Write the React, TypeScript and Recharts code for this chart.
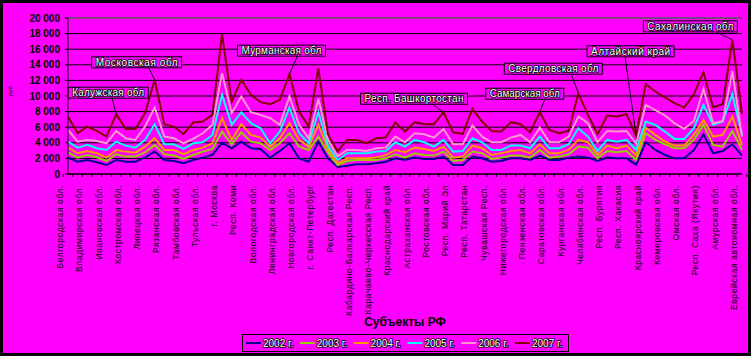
import { ComposedChart, Line, XAxis, YAxis, CartesianGrid, ReferenceLine, ReferenceDot } from 'recharts';

const regions = [
  'Белгородская обл.', 'Брянская обл.', 'Владимирская обл.', 'Воронежская обл.', 'Ивановская обл.',
  'Калужская обл.', 'Костромская обл.', 'Курская обл.', 'Липецкая обл.', 'Московская обл.',
  'Рязанская обл.', 'Смоленская обл.', 'Тамбовская обл.', 'Тверская обл.', 'Тульская обл.',
  'Ярославская обл.', 'г. Москва', 'Респ. Карелия', 'Респ. Коми', 'Архангельская обл.',
  'Вологодская обл.', 'Калининградская обл.', 'Ленинградская обл.', 'Мурманская обл.', 'Новгородская обл.',
  'Псковская обл.', 'г. Санкт-Петербург', 'Респ. Адыгея', 'Респ. Дагестан', 'Респ. Ингушетия',
  'Кабардино-Балкарская Респ.', 'Респ. Калмыкия', 'Карачаево-Черкесская Респ.', 'Респ. Северная Осетия - Алания', 'Краснодарский край',
  'Ставропольский край', 'Астраханская обл.', 'Волгоградская обл.', 'Ростовская обл.', 'Респ. Башкортостан',
  'Респ. Марий Эл', 'Респ. Мордовия', 'Респ. Татарстан', 'Удмуртская Респ.', 'Чувашская Респ.',
  'Кировская обл.', 'Нижегородская обл.', 'Оренбургская обл.', 'Пензенская обл.', 'Самарская обл.',
  'Саратовская обл.', 'Ульяновская обл.', 'Курганская обл.', 'Свердловская обл.', 'Челябинская обл.',
  'Респ. Алтай', 'Респ. Бурятия', 'Респ. Тыва', 'Респ. Хакасия', 'Алтайский край',
  'Красноярский край', 'Иркутская обл.', 'Кемеровская обл.', 'Новосибирская обл.', 'Омская обл.',
  'Томская обл.', 'Респ. Саха (Якутия)', 'Хабаровский край', 'Амурская обл.', 'Сахалинская обл.',
  'Еврейская автономная обл.',
];

const years = ['2002 г.', '2003 г.', '2004 г.', '2005 г.', '2006 г.', '2007 г.'];
const colors = ['#000090', '#99CC00', '#FF9900', '#00FFFF', '#FF99CC', '#800000'];

const v2002 = [
  2100, 1580, 1800, 1500, 1160, 1800, 1580, 1580, 2100, 2870,
  1800, 1670, 1370, 1800, 2100, 2440, 4000, 3300, 4150, 3300,
  3210, 2100, 2950, 3940, 2010, 1580, 4150, 2010, 900, 1070,
  1240, 1240, 1370, 1580, 2010, 1800, 2100, 1930, 1930, 2230,
  1160, 1160, 2230, 2010, 1580, 1670, 2010, 2010, 1800, 2360,
  1800, 1800, 2100, 2230, 2100, 1670, 2100, 2010, 2010, 1200,
  4070, 3080, 2440, 2010, 2010, 3080, 5100, 2660, 2950, 3810,
  2360,
];
const v2003 = [
  2780, 2100, 2440, 2140, 1670, 2530, 2230, 2230, 2780, 3730,
  2530, 2360, 1930, 2440, 2870, 3210, 5440, 3810, 5350, 4150,
  3940, 3080, 3940, 5220, 3510, 3080, 4800, 2780, 1160, 1670,
  1800, 1800, 1800, 2010, 2530, 2100, 2660, 2440, 2360, 2870,
  1670, 1800, 2870, 2660, 1930, 2100, 2360, 2360, 2100, 3080,
  2100, 2230, 2530, 3510, 3380, 2010, 2950, 2780, 2950, 1800,
  5220, 4370, 3810, 3300, 3300, 4370, 6300, 3730, 3510, 5520,
  3100,
];
const v2004 = [
  3380, 2660, 2950, 2660, 2100, 3080, 2870, 2740, 3510, 4580,
  3080, 3080, 2530, 3080, 3380, 3940, 7150, 4370, 6380, 5010,
  4670, 3510, 4580, 6510, 4370, 3510, 6300, 3210, 1370, 2010,
  2010, 2010, 2100, 2440, 3080, 2780, 3380, 3210, 2950, 3510,
  2100, 2230, 3640, 3300, 2440, 2660, 2950, 3080, 2660, 3810,
  2660, 2660, 3080, 4370, 4070, 2440, 3640, 3300, 3640, 2400,
  5950, 5010, 4150, 3640, 3640, 5010, 6940, 4800, 5010, 7370,
  3700,
];
const v2005 = [
  4150, 3380, 3730, 3300, 3080, 4150, 3640, 3380, 4370, 6380,
  3810, 3810, 3210, 3940, 4070, 5010, 10150, 6300, 7920, 6510,
  5870, 3940, 5440, 8520, 5220, 3940, 7920, 3640, 1800, 2660,
  2660, 2660, 2870, 2950, 4070, 3510, 4370, 4070, 3510, 4370,
  2870, 2950, 4580, 4070, 3080, 3080, 3640, 3640, 3300, 4800,
  3300, 3300, 3810, 5870, 4800, 2950, 4370, 4150, 4370, 3100,
  6720, 6300, 5440, 4500, 4500, 5870, 8860, 6300, 6720, 10230,
  5010,
];
const v2006 = [
  5650, 4150, 4370, 4240, 3940, 5520, 4580, 4370, 6080, 8520,
  4800, 4580, 3940, 4500, 5220, 6300, 12930, 7800, 9940, 7920,
  7580, 7150, 6300, 9940, 6300, 4580, 9640, 4370, 2300, 3080,
  3080, 2950, 3300, 3380, 4800, 4070, 5220, 5100, 4670, 5780,
  3810, 3810, 6210, 4800, 4070, 4070, 4670, 5010, 4070, 5950,
  4070, 4070, 4800, 7370, 6510, 4070, 5520, 5440, 5520, 3900,
  8860, 8200, 7500, 6500, 5800, 6800, 10900, 6500, 6800, 13200,
  4800,
];
const v2007 = [
  7370, 5220, 6080, 5520, 4800, 7670, 5780, 5780, 7800, 12080,
  6380, 6080, 5100, 6600, 6720, 7580, 17940, 9290, 12080, 10150,
  9210, 8950, 9510, 12800, 8010, 6080, 13580, 5100, 2900, 4370,
  4370, 3940, 4580, 4670, 6600, 5440, 6640, 6380, 6380, 7920,
  5350, 5140, 8350, 6720, 5520, 5440, 6640, 6380, 5350, 7920,
  5650, 5220, 5520, 10360, 7580, 5100, 7490, 7370, 7670, 4900,
  11520, 10580, 9810, 9080, 8520, 10230, 13060, 8520, 8950, 17200,
  7700,
];

const yTicks = [0, 2000, 4000, 6000, 8000, 10000, 12000, 14000, 16000, 18000, 20000];

// callouts point at the 2007 line
const calloutRegions = [
  'Калужская обл.', 'Московская обл.', 'Мурманская обл.', 'Респ. Башкортостан',
  'Самарская обл.', 'Свердловская обл.', 'Алтайский край', 'Сахалинская обл.',
];
const calloutTexts = [
  'Калужская обл', 'Московская обл', 'Мурманская обл', 'Респ. Башкортостан',
  'Самарская обл', 'Свердловская обл', 'Алтайский край', 'Сахалинская обл',
];
// box offset / width and leader start, relative to the point
const calloutLayout = [
  { bx: -48, by: -27, w: 80, lx: -4, ly: -16 },
  { bx: -63, by: -23, w: 90, lx: -6, ly: -12 },
  { bx: -52, by: -29, w: 88, lx: 8, ly: -18 },
  { bx: -83, by: -19, w: 107, lx: -11, ly: -8 },
  { bx: -54, by: -24, w: 78, lx: 5, ly: -13 },
  { bx: -74, by: -30, w: 98, lx: -7, ly: -19 },
  { bx: -49, by: -90, w: 87, lx: -11, ly: -79 },
  { bx: -89, by: -19, w: 94, lx: -16, ly: -8 },
];

const keys = ['y2002', 'y2003', 'y2004', 'y2005', 'y2006', 'y2007'];
const values = [v2002, v2003, v2004, v2005, v2006, v2007];

const data = regions.map((name, i) => {
  const row: Record<string, string | number> = { name };
  keys.forEach((k, s) => (row[k] = values[s][i]));
  return row;
});

const FONT = '"Liberation Sans", Arial, sans-serif';
const PLOT_W = 674;
const BAND = PLOT_W / regions.length;

function RegionTick(props: any) {
  const { x, y, payload, index } = props;
  return (
    <g>
      <line x1={x + BAND / 2} y1={y} x2={x + BAND / 2} y2={y + 3} stroke="#000" />
      {index === 0 && <line x1={x - BAND / 2} y1={y} x2={x - BAND / 2} y2={y + 3} stroke="#000" />}
      {index % 2 === 0 && (
        <text
          transform={`translate(${x - 5},${y + 11}) rotate(-90)`}
          textAnchor="end"
          fontSize={8.5}
          letterSpacing={0.6}
          fontFamily={FONT}
          fill="#000"
        >
          {payload.value}
        </text>
      )}
    </g>
  );
}

function Callout(props: any) {
  const { cx, cy, idx } = props;
  if (cx == null || cy == null) return null;
  const l = calloutLayout[idx];
  const bx = cx + l.bx;
  const by = cy + l.by;
  return (
    <g>
      <line x1={cx + l.lx} y1={cy + l.ly} x2={cx} y2={cy} stroke="#000" strokeWidth={1} />
      <rect x={bx} y={by} width={l.w} height={11} fill="#FF00FF" stroke="#000" strokeWidth={1} />
      <text
        x={bx + 4}
        y={by + 9}
        fontSize={10}
        fontFamily={FONT}
        fill="#fff"
        stroke="#000"
        strokeWidth={1.6}
        paintOrder="stroke"
        textLength={l.w - 8}
        lengthAdjust="spacing"
      >
        {calloutTexts[idx]}
      </text>
    </g>
  );
}

export default function App() {
  return (
    <div style={{ position: 'absolute', left: 0, top: 0, width: 751, height: 356, background: '#000' }}>
      <div style={{ position: 'absolute', left: 3, top: 3, width: 745, height: 350, background: '#FF00FF' }}>
        <ComposedChart
          width={745}
          height={350}
          data={data}
          margin={{ top: 15, right: 6, left: 0, bottom: 0 }}
        >
          <CartesianGrid vertical={false} stroke="#000" strokeWidth={1} />
          <XAxis
            dataKey="name"
            interval={0}
            height={179}
            tickSize={0}
            tickMargin={0}
            tickLine={false}
            axisLine={{ stroke: '#000' }}
            tick={<RegionTick />}
            label={{
              value: 'Субъекты РФ',
              position: 'insideBottom',
              offset: 27,
              style: { fontSize: 12, fontWeight: 'bold', fontFamily: FONT, fill: '#000' },
            }}
          />
          <YAxis
            width={65}
            domain={[0, 20000]}
            ticks={yTicks}
            interval={0}
            tickSize={3}
            tickMargin={5}
            tickLine={{ stroke: '#000' }}
            axisLine={{ stroke: '#000' }}
            tick={{ fontSize: 10, fontWeight: 'bold', fontFamily: FONT, fill: '#000' }}
            tickFormatter={(v) => String(v).replace(/\B(?=(\d{3})+(?!\d))/g, ' ')}
            label={{
              value: 'руб.',
              angle: -90,
              position: 'insideLeft',
              offset: 7,
              style: { fontSize: 6, fontFamily: FONT, fill: '#000' },
            }}
          />
          <YAxis
            yAxisId="right"
            orientation="right"
            width={0}
            tick={false}
            tickLine={false}
            axisLine={{ stroke: '#808080' }}
          />
          <ReferenceLine y={20000} stroke="#808080" strokeWidth={1} />
          {keys.map((k, s) => (
            <Line
              key={k}
              dataKey={k}
              name={years[s]}
              stroke={colors[s]}
              strokeWidth={2}
              dot={false}
              activeDot={false}
              type="linear"
              isAnimationActive={false}
            />
          ))}
          {calloutRegions.map((r, i) => (
            <ReferenceDot
              key={r}
              x={r}
              y={v2007[regions.indexOf(r)]}
              r={0}
              ifOverflow="visible"
              shape={(p: any) => <Callout {...p} idx={i} />}
            />
          ))}
        </ComposedChart>
        <svg
          width={745}
          height={350}
          style={{ position: 'absolute', left: 0, top: 0, pointerEvents: 'none' }}
        >
          <rect x={239.5} y={331.5} width={326} height={17} fill="#FF00FF" stroke="#000" strokeWidth={1} />
          {years.map((y, s) => {
            const x0 = 243 + s * 53.8;
            return (
              <g key={y}>
                <line x1={x0} y1={340} x2={x0 + 15} y2={340} stroke={colors[s]} strokeWidth={2} />
                <text
                  x={x0 + 17}
                  y={343.7}
                  fontSize={10}
                  fontFamily={FONT}
                  fill="#fff"
                  stroke="#000"
                  strokeWidth={1.6}
                  paintOrder="stroke"
                >
                  {y}
                </text>
              </g>
            );
          })}
        </svg>
      </div>
    </div>
  );
}
